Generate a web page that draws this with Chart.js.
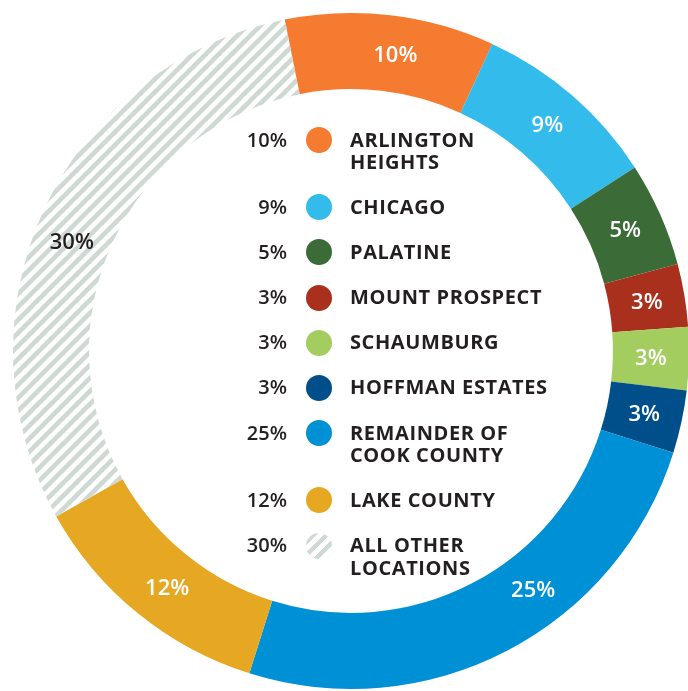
<!DOCTYPE html>
<html>
<head>
<meta charset="utf-8">
<script src="https://cdn.jsdelivr.net/npm/chart.js@4"></script>
<style>
  html, body { margin: 0; padding: 0; background: #fff; overflow: hidden; width: 688px; height: 691px; }
  #wrap { position: absolute; left: 0; top: 0; width: 702px; height: 702px; }
  #legend {
    position: absolute; left: 200px; top: 128.5px;
    font-family: "Open Sans", sans-serif; font-weight: 700; font-size: 20px;
    line-height: 22.5px; color: #231f20;
  }
  .row { display: flex; align-items: flex-start; margin-bottom: 22.6px; }
  .pct { width: 87px; text-align: right; font-weight: 600; }
  .dot { width: 26px; height: 26px; border-radius: 50%; margin: -1.75px 0 -1.75px 19px; flex: none; }
  .name { margin-left: 18px; letter-spacing: 0.6px; }
</style>
</head>
<body>
<div id="wrap"><canvas id="chart"></canvas></div>
<div id="legend"></div>
<script>
(() => {
  const LABELS = [
    ["ARLINGTON", "HEIGHTS"], ["CHICAGO"], ["PALATINE"], ["MOUNT PROSPECT"],
    ["SCHAUMBURG"], ["HOFFMAN ESTATES"], ["REMAINDER OF", "COOK COUNTY"],
    ["LAKE COUNTY"], ["ALL OTHER", "LOCATIONS"],
  ];
  const VALUES = [10, 9, 5, 3, 3, 3, 25, 12, 30];
  const COLORS = [
    "#f47b30", "#33bbec", "#3b6b37", "#a9301c", "#a3cd5f",
    "#004f8b", "#0090d6", "#e6a823", null, // last one is hatched
  ];
  // where along each slice its % label sits (0 = start, 1 = end)
  const LABEL_AT = [0.55, 0.5, 0.5, 0.5, 0.5, 0.5, 0.39, 0.47, 0.47];
  const HATCH = "#cfd9d4";

  function hatchPattern() {
    const s = 13;
    const c = document.createElement("canvas");
    c.width = s; c.height = s;
    const g = c.getContext("2d");
    g.strokeStyle = HATCH;
    g.lineWidth = 4.7;
    for (const off of [-s, 0, s]) {
      g.beginPath();
      g.moveTo(off - 2, s + 2);
      g.lineTo(off + s + 2, -2);
      g.stroke();
    }
    return g.createPattern(c, "repeat");
  }
  const pattern = hatchPattern();
  const fills = COLORS.map(c => c || pattern);

  // legend inside the hole
  const legend = document.getElementById("legend");
  LABELS.forEach((lines, i) => {
    const row = document.createElement("div");
    row.className = "row";
    const dotStyle = COLORS[i]
      ? `background:${COLORS[i]}`
      : `background:repeating-linear-gradient(-45deg, ${HATCH} 0 4.7px, #fff 4.7px 9.2px)`;
    row.innerHTML = `
      <div class="pct">${VALUES[i]}%</div>
      <div class="dot" style="${dotStyle}"></div>
      <div class="name">${lines.join("<br>")}</div>
    `;
    legend.appendChild(row);
  });

  const ringLabels = {
    id: "ringLabels",
    afterDatasetsDraw(chart) {
      const { ctx } = chart;
      const meta = chart.getDatasetMeta(0);
      ctx.save();
      ctx.font = '600 22px "Open Sans", sans-serif';
      ctx.textAlign = "center";
      ctx.textBaseline = "middle";
      meta.data.forEach((arc, i) => {
        const { x, y, startAngle, endAngle, innerRadius, outerRadius } =
          arc.getProps(["x", "y", "startAngle", "endAngle", "innerRadius", "outerRadius"], true);
        const a = startAngle + (endAngle - startAngle) * LABEL_AT[i];
        const r = (innerRadius + outerRadius) / 2;
        ctx.fillStyle = COLORS[i] ? "#ffffff" : "#231f20";
        ctx.fillText(`${VALUES[i]}%`, x + Math.cos(a) * r, y + Math.sin(a) * r + 1);
      });
      ctx.restore();
    },
  };

  new Chart(document.getElementById("chart"), {
    type: "doughnut",
    data: {
      labels: LABELS.map(l => l.join(" ")),
      datasets: [{
        data: VALUES,
        backgroundColor: fills,
        borderWidth: 0,
      }],
    },
    options: {
      animation: false,
      responsive: true,
      maintainAspectRatio: false,
      rotation: -11.3,
      cutout: "77.5%",
      layout: { padding: 13 },
      plugins: { legend: { display: false }, tooltip: { enabled: false } },
    },
    plugins: [ringLabels],
  });
})();
</script>
</body>
</html>
